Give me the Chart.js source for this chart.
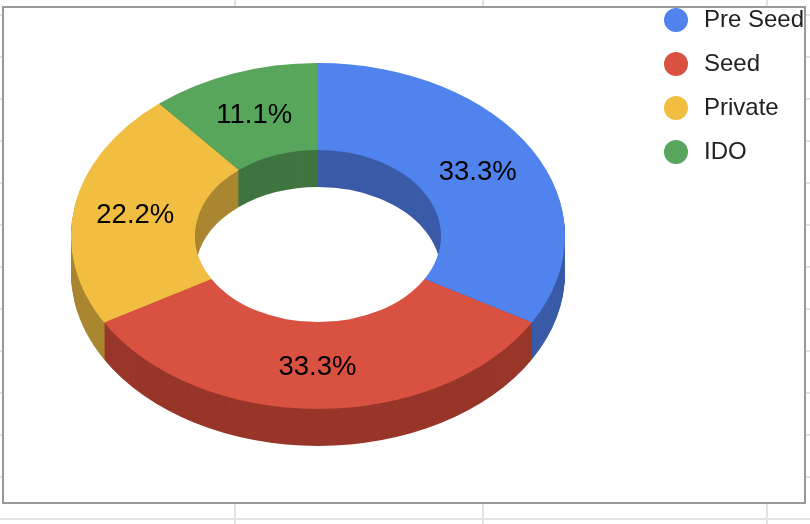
<!DOCTYPE html>
<html><head><meta charset="utf-8">
<style>html,body{margin:0;padding:0;background:#fff}canvas{display:block}</style>
<script src="https://cdn.jsdelivr.net/npm/chart.js@4"></script></head>
<body><div style="width:810px;height:524px"><canvas id="c" width="810" height="524"></canvas></div>
<script>
const categories = ['Pre Seed', 'Seed', 'Private', 'IDO'];
const shares = [33.3, 33.3, 22.2, 11.1];
const topColors = ['#5083ee', '#d95140', '#f2be42', '#58a65c'];
const wallColors = ['#3a5ba7', '#98362a', '#a98630', '#3f7540'];
const gridX = [235, 483, 767];
const gridY = [15, 57, 99, 141, 183, 225, 267, 309, 351, 393, 435, 477, 519];
const FONT = '"Liberation Sans", Arial, sans-serif';
const TILT = 0.70, DEPTH = 37;

function dotImage(color) {
  const d = document.createElement('canvas'); d.width = 24; d.height = 24;
  const x = d.getContext('2d'); x.fillStyle = color;
  x.beginPath(); x.arc(12, 12, 12, 0, Math.PI * 2); x.fill();
  return d;
}
const dots = topColors.map(dotImage);

function squash(ctx, el, dy) {
  ctx.translate(el.x, el.y + dy);
  ctx.scale(1, TILT);
  ctx.translate(-el.x, -el.y);
}
const donut3d = {
  id: 'donut3d',
  beforeDraw(chart) {
    const ctx = chart.ctx;
    ctx.save();
    ctx.fillStyle = '#fff'; ctx.fillRect(0, 0, 810, 524);
    ctx.fillStyle = '#e3e3e3';
    gridX.forEach(x => ctx.fillRect(x - 1, 0, 2, 524));
    gridY.forEach(y => ctx.fillRect(0, y - 1, 810, 2));
    ctx.fillStyle = '#fff'; ctx.fillRect(3, 7, 802, 496);
    ctx.strokeStyle = '#999'; ctx.lineWidth = 2;
    ctx.strokeRect(3, 7, 802, 496);
    ctx.restore();
    const lg = chart.legend;
    lg.left = 640; lg.right = 810; lg.top = -12; lg.bottom = 524;
  },
  beforeDatasetDraw(chart, args) {
    const ctx = chart.ctx;
    const arcs = args.meta.data;
    for (let dy = DEPTH; dy >= 1; dy -= 1) {
      arcs.forEach((el, i) => {
        const keep = el.options;
        el.options = Object.assign({}, keep, { backgroundColor: wallColors[i], borderWidth: 0 });
        ctx.save(); squash(ctx, el, dy); el.draw(ctx); ctx.restore();
        el.options = keep;
      });
    }
    ctx.save();
    squash(ctx, arcs[0], 0);
  },
  afterDatasetDraw(chart, args) {
    const ctx = chart.ctx;
    ctx.restore();
    ctx.save();
    ctx.fillStyle = '#000';
    ctx.font = '27.5px ' + FONT;
    ctx.textAlign = 'center'; ctx.textBaseline = 'middle';
    args.meta.data.forEach((el, i) => {
      const p = el.getCenterPoint();
      ctx.fillText(shares[i].toFixed(1) + '%', p.x - 0.5, el.y + (p.y - el.y) * TILT + 1.5);
    });
    ctx.restore();
  }
};
new Chart(document.getElementById('c'), {
  type: 'doughnut',
  data: { labels: categories, datasets: [{ data: shares, backgroundColor: topColors, borderWidth: 0, radius: 247, clip: false }] },
  options: {
    responsive: false, animation: false, cutout: '49.8%',
    layout: { padding: { left: 0, right: 174, top: 0, bottom: 52 } },
    plugins: {
      tooltip: { enabled: false },
      legend: {
        position: 'chartArea', align: 'start',
        labels: {
          color: '#222', font: { family: FONT, size: 24 }, padding: 20,
          usePointStyle: true, pointStyleWidth: 32, boxHeight: 17,
          generateLabels(chart) {
            return Chart.overrides.doughnut.plugins.legend.labels.generateLabels(chart)
              .map((it, i) => Object.assign(it, { pointStyle: dots[i] }));
          }
        }
      }
    }
  },
  plugins: [donut3d]
});
</script></body></html>
